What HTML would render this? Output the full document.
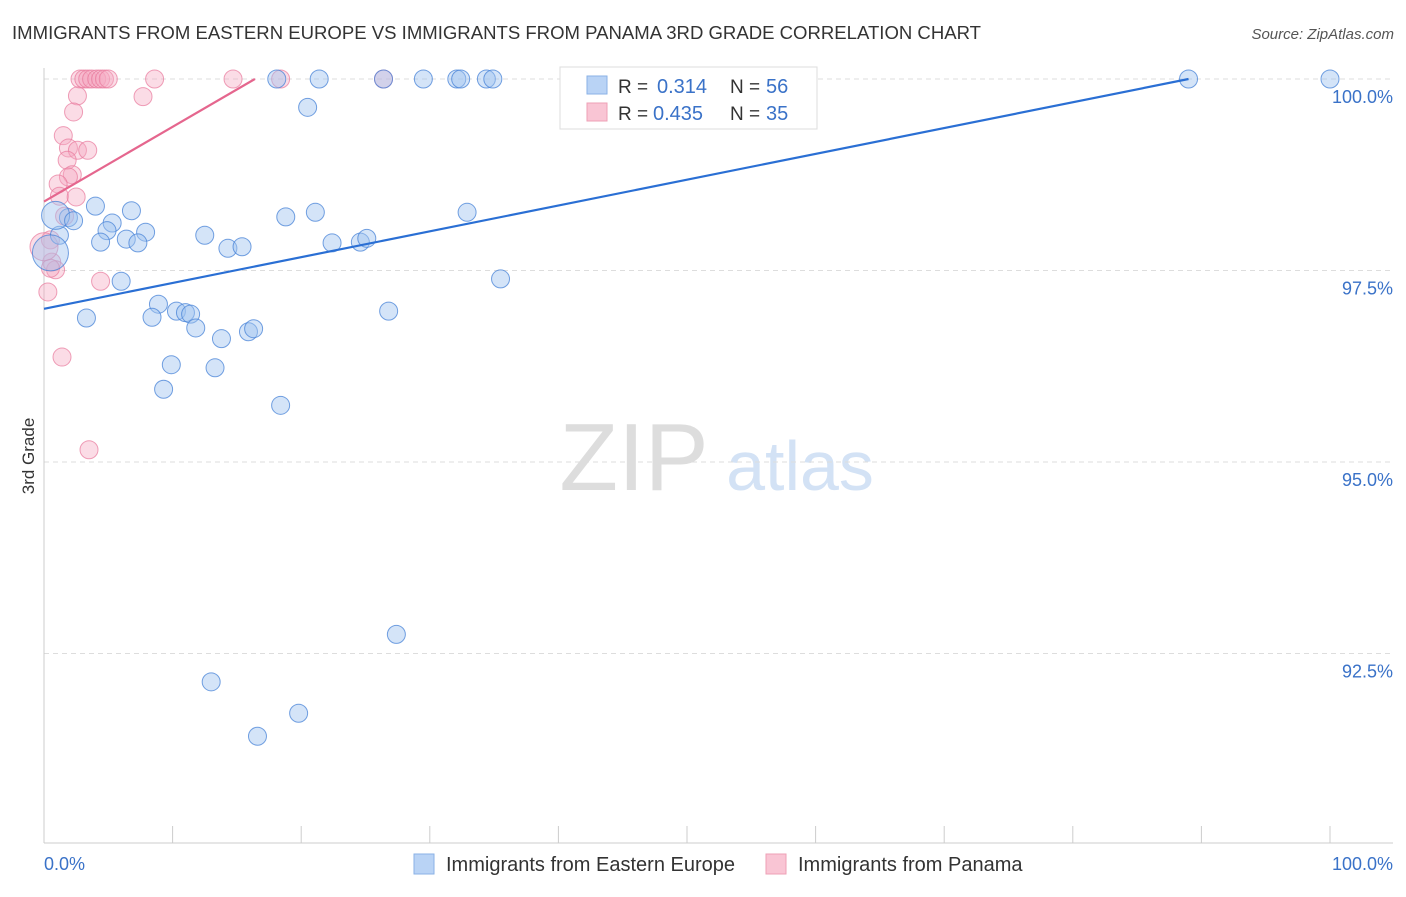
<!DOCTYPE html>
<html><head><meta charset="utf-8"><style>
body{margin:0;background:#fff;font-family:"Liberation Sans",sans-serif}
svg text{font-family:"Liberation Sans",sans-serif}
</style></head><body>
<svg id="c" width="1406" height="892">
<text x="12" y="39" font-size="18" fill="#333" textLength="969" lengthAdjust="spacingAndGlyphs">IMMIGRANTS FROM EASTERN EUROPE VS IMMIGRANTS FROM PANAMA 3RD GRADE CORRELATION CHART</text>
<text x="1394" y="39" font-size="15" fill="#555" font-style="italic" text-anchor="end">Source: ZipAtlas.com</text>
<text transform="translate(34,456) rotate(-90)" font-size="17" fill="#333" text-anchor="middle">3rd Grade</text>
<g><text x="634" y="490" font-size="96" fill="#ddd" font-family="Liberation Serif" text-anchor="middle">ZIP</text><text x="800" y="490" font-size="70" fill="#d3e2f5" text-anchor="middle">atlas</text></g>
<g id="grid"></g><g id="axes"></g><g id="pts"></g><g id="lines"></g>
<g>
<rect x="560" y="67" width="257" height="62" fill="#fff" stroke="#ddd"/>
<rect x="587" y="76" width="20" height="18" fill="#b9d3f5" stroke="#8ab1e6"/>
<text x="618" y="93" font-size="19" fill="#333">R =</text><text x="657" y="93" font-size="20" fill="#3a72c8">0.314</text>
<text x="730" y="93" font-size="19" fill="#333">N =</text><text x="766" y="93" font-size="20" fill="#3a72c8">56</text>
<rect x="587" y="103" width="20" height="18" fill="#f9c5d4" stroke="#eea0b6"/>
<text x="618" y="120" font-size="19" fill="#333">R =</text><text x="653" y="120" font-size="20" fill="#3a72c8">0.435</text>
<text x="730" y="120" font-size="19" fill="#333">N =</text><text x="766" y="120" font-size="20" fill="#3a72c8">35</text>
</g>
<g>
<rect x="414" y="854" width="20" height="20" fill="#b9d3f5" stroke="#8ab1e6"/>
<text x="446" y="871" font-size="20" fill="#333">Immigrants from Eastern Europe</text>
<rect x="766" y="854" width="20" height="20" fill="#f9c5d4" stroke="#eea0b6"/>
<text x="798" y="871" font-size="20" fill="#333">Immigrants from Panama</text>
</g>
</svg>
<script>
const yTicks=[100,97.5,95,92.5];
const yTickLabels=["100.0%","97.5%","95.0%","92.5%"];
const xTickLabels=["0.0%","100.0%"];
const blueX=[18.1,21.4,26.4,29.5,32.1,32.4,34.4,34.9,89.0,100,20.5,4.0,6.8,1.9,5.3,1.2,18.8,21.1,32.9,4.9,7.9,4.4,6.4,7.3,12.5,14.3,15.4,22.4,24.6,25.1,35.5,6.0,3.3,8.9,8.4,10.3,11.0,11.4,11.8,13.8,15.9,16.3,26.8,9.9,13.3,9.3,18.4,27.4,13.0,19.8,16.6,0.9,0.5,2.3];
const blueY=[100,100,100,100,100,100,100,100,100,100,99.63,98.34,98.28,98.19,98.12,97.96,98.20,98.26,98.26,98.02,98.00,97.87,97.91,97.86,97.96,97.79,97.81,97.86,97.87,97.92,97.39,97.36,96.88,97.06,96.89,96.97,96.95,96.93,96.75,96.61,96.70,96.74,96.97,96.27,96.23,95.95,95.74,92.75,92.13,91.72,91.42,98.22,97.73,98.15];
const blueR=[9,9,9,9,9,9,9,9,9,9,9,9,9,9,9,9,9,9,9,9,9,9,9,9,9,9,9,9,9,9,9,9,9,9,9,9,9,9,9,9,9,9,9,9,9,9,9,9,9,9,9,14,18,9];
const pinkX=[2.8,3.1,3.4,3.7,4.1,4.4,4.7,5.0,8.6,14.7,18.4,26.4,2.6,7.7,2.3,1.5,1.9,2.6,3.4,1.8,2.2,1.9,1.1,1.2,2.5,1.6,0.5,0.6,0.9,0.5,4.4,0.3,1.4,3.5,0];
const pinkY=[100,100,100,100,100,100,100,100,100,100,100,100,99.78,99.77,99.57,99.26,99.10,99.07,99.07,98.94,98.75,98.72,98.63,98.47,98.46,98.21,97.90,97.61,97.51,97.53,97.36,97.22,96.37,95.16,97.81];
const blueLineX=[0,89],blueLineY=[97.0,100];
const pinkLineX=[0,16.4],pinkLineY=[98.4,100];
const NS="http://www.w3.org/2000/svg";
const X=v=>44+v*12.86, Y=v=>79+(100-v)*76.6;
function mk(t,a,p){const e=document.createElementNS(NS,t);for(const k in a)e.setAttribute(k,a[k]);document.getElementById(p).appendChild(e);return e;}
yTicks.forEach((t,i)=>{
 const l=mk('line',{x1:44,x2:1393,y1:Y(t),y2:Y(t),stroke:'#ddd','stroke-dasharray':'5,4'},'grid');
 
 
 const tx=mk('text',{x:1393,y:Y(t)+24,'font-size':18,fill:'#3a72c8','text-anchor':'end'},'grid');
 tx.textContent=yTickLabels[i];
 
 
});
const ax=mk('line',{x1:44,x2:44,y1:68,y2:843,stroke:'#ccc'},'axes');


const bx=mk('line',{x1:44,x2:1393,y1:843,y2:843,stroke:'#ccc'},'axes');


for(let i=1;i<=10;i++){const t=mk('line',{x1:X(i*10),x2:X(i*10),y1:826,y2:843,stroke:'#ccc'},'axes');
 
 }
[[0,'start',44],[1,'end',1393]].forEach(([i,a,x])=>{const t=mk('text',{x:x,y:870,'font-size':18,fill:'#3a72c8','text-anchor':a},'axes');t.textContent=xTickLabels[i];
 
 });
pinkX.forEach((v,i)=>{const c=mk('circle',{cx:X(v),cy:Y(pinkY[i]),r:i==34?14:9,fill:'rgba(246,168,192,0.4)',stroke:'rgba(232,120,155,0.7)'},'pts');
 
 });
blueX.forEach((v,i)=>{const c=mk('circle',{cx:X(v),cy:Y(blueY[i]),r:blueR[i],fill:'rgba(160,196,240,0.45)',stroke:'rgba(70,130,215,0.75)'},'pts');
 
 });
const bl=mk('line',{x1:X(blueLineX[0]),y1:Y(blueLineY[0]),x2:X(blueLineX[1]),y2:Y(blueLineY[1]),stroke:'#2a6fd4','stroke-width':2.2},'lines');


const pl=mk('line',{x1:X(pinkLineX[0]),y1:Y(pinkLineY[0]),x2:X(pinkLineX[1]),y2:Y(pinkLineY[1]),stroke:'#e5668e','stroke-width':2.2},'lines');


</script>
</body></html>
